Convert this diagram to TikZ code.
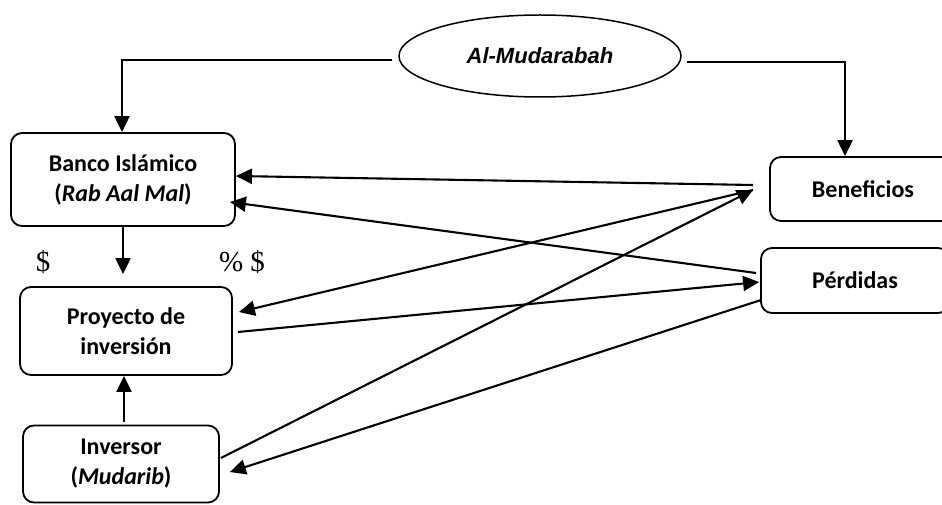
\documentclass[tikz,border=0pt]{standalone}
\usepackage{fontspec}
\setmainfont{Carlito}
\newfontfamily\arialf{Liberation Sans}
\newfontfamily\timesf{Liberation Serif}
\usetikzlibrary{shapes.geometric,arrows.meta}
\begin{document}
\begin{tikzpicture}[x=1pt,y=-1pt,
  box/.style={draw,line width=1.8pt,rounded corners=11pt,align=center,
    font=\fontsize{24}{30}\selectfont\bfseries,inner sep=0pt},
  arrow/.style={line width=2.1pt,-{Triangle[length=16pt,width=15pt]}},
  money/.style={font=\timesf\fontsize{29}{34}\selectfont,inner sep=0pt}]
\useasboundingbox (0,0) rectangle (942,505);
\clip (0,0) rectangle (942,505);

% contract type
\node[draw,ellipse,line width=1.5pt,minimum width=282pt,minimum height=82pt,inner sep=0pt,
  font=\arialf\fontsize{22}{26}\selectfont\bfseries\itshape] (mud) at (540,56) {Al-Mudarabah};

% parties and project
\node[box,minimum width=224pt,minimum height=93pt] (banco) at (123,179.5)
  {Banco Islámico\\(\textit{Rab Aal Mal})};
\node[box,minimum width=212pt,minimum height=88pt] (proyecto) at (126,331)
  {Proyecto de\\inversión};
\node[box,minimum width=196pt,minimum height=77pt] (inversor) at (121,464)
  {\raisebox{-8pt}{\parbox{196pt}{\centering Inversor\\(\textit{Mudarib})}}};

% outcomes
\node[box,minimum width=186pt,minimum height=64pt] (benef) at (863,189) {Beneficios};
\node[box,minimum width=188pt,minimum height=65pt] (perd) at (855,280.5) {Pérdidas};

% money labels
\node[money] (d1) at (43,262) {\$};
\node[money] (d2) at (242,262) {\% \$};

% junction points left of Beneficios
\coordinate (bA) at (753,185);
\coordinate (bB) at (753,190);

% from the contract to both sides
\draw[arrow] ([shift={(-6,4)}]mud.west) -| ([xshift=-1pt]banco.north);
\draw[arrow] ([shift={(5,6)}]mud.east) -| ([xshift=-18pt]benef.north);

% capital flows
\draw[arrow] (banco.south) -- ([yshift=12pt]proyecto.north -| banco.south);
\draw[arrow] ([shift={(3,-3)}]inversor.north) -- ([xshift=-2pt]proyecto.south);

% distribution of results
\draw[arrow] (bA) -- ([shift={(0,-3.5)}]banco.east);
\draw[arrow] ([shift={(-4,-7.5)}]perd.west) -- ([shift={(-6,22.5)}]banco.east);
\draw[arrow] (bB) -- ([shift={(6,-19)}]proyecto.east);
\draw[arrow] ([shift={(5,1)}]proyecto.east) -- ([shift={(-1,1.5)}]perd.west);
\draw[arrow] ([shift={(1,-6)}]inversor.east) -- (bB);
\draw[arrow] ([shift={(1,19.5)}]perd.west) -- ([shift={(10,8)}]inversor.east);
\end{tikzpicture}
\end{document}
